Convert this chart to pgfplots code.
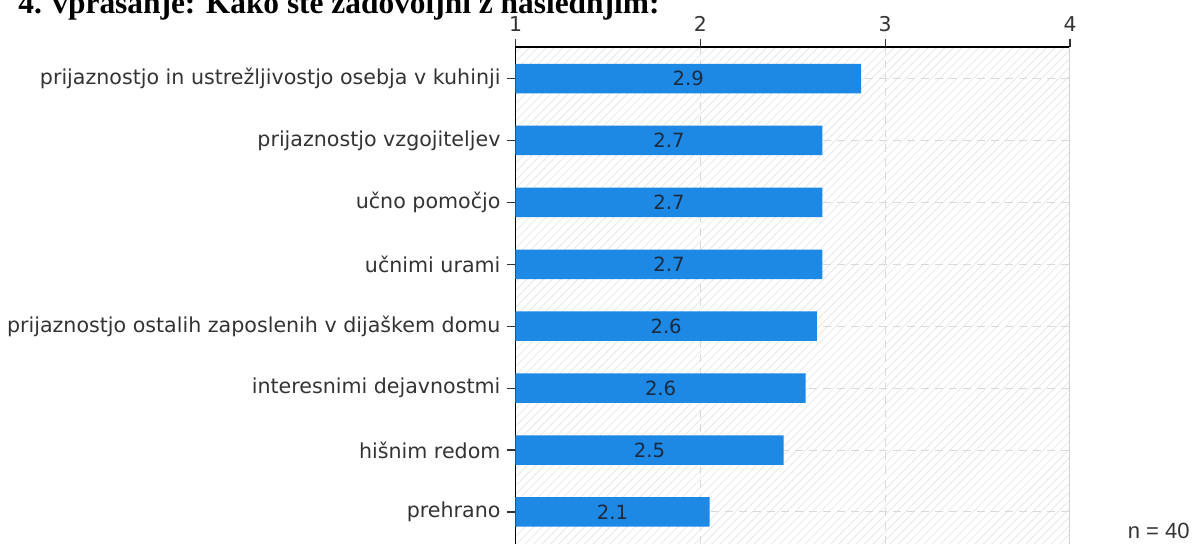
\documentclass[border=0pt]{standalone}
\usepackage{fontspec}
\setmainfont{DejaVu Sans}
\newfontfamily\titlefont{Liberation Serif}
\newfontfamily\arialfont{Liberation Sans}
\usepackage{pgfplots}
\pgfplotsset{compat=1.18}
\usepackage{pgfplotstable}
\usetikzlibrary{patterns.meta}
\definecolor{barblue}{HTML}{1E88E5}
\definecolor{labgray}{HTML}{333333}
\definecolor{valnavy}{HTML}{1A2B3F}

% mean score per item, bottom to top
\pgfplotstableread{
y val
0 2.05
1 2.45
2 2.57
3 2.63
4 2.66
5 2.66
6 2.66
7 2.87
}\bars
% label position (middle of the bar) and the printed value
\pgfplotstableread{
y mid lab
0 1.525 2.1
1 1.725 2.5
2 1.785 2.6
3 1.815 2.6
4 1.830 2.7
5 1.830 2.7
6 1.830 2.7
7 1.935 2.9
}\vals

\begin{document}
\begin{tikzpicture}
\useasboundingbox (0,0) rectangle (598pt,-271.5pt);
\node[anchor=base west,inner sep=0pt,font=\titlefont\bfseries\fontsize{15.7}{18}\selectfont]
  at (9pt,-6.5pt) {4. vprašanje: Kako ste zadovoljni z naslednjim:};
\begin{axis}[
  at={(257.75pt,-23.5pt)},anchor=north west,
  scale only axis,width=277.25pt,height=248.25pt,
  xmin=1,xmax=4,ymin=-0.509,ymax=7.509,
  axis x line=top,axis y line=left,
  x axis line style={-},y axis line style={-},
  axis line style={black,line width=0.8pt},
  xtick={1,2,3,4},ytick={0,...,7},
  yticklabels={prehrano,hišnim redom,interesnimi dejavnostmi,
    prijaznostjo ostalih zaposlenih v dijaškem domu,učnimi urami,
    učno pomočjo,prijaznostjo vzgojiteljev,
    prijaznostjo in ustrežljivostjo osebja v kuhinji},
  /pgf/number format/assume math mode=true,
  tick align=outside,major tick length=4pt,
  tick style={black!80,line width=0.6pt},
  xticklabel style={font=\fontsize{10.2}{12}\selectfont,text=black!80},
  yticklabel style={font=\fontsize{10.3}{12}\selectfont,text=labgray},
  xmajorgrids,ymajorgrids,
  major grid style={gray!30,dash pattern=on 4pt off 3pt,line width=0.5pt},
  axis background/.style={fill=white,
    postaction={pattern={Lines[angle=45,distance=3pt,line width=0.4pt]},pattern color=black!9}},
]
\addplot[xbar,bar width=14.75pt,fill=barblue,draw=none] table[x=val,y=y]{\bars};
\addplot[draw=none,nodes near coords,point meta=explicit symbolic,
  nodes near coords style={anchor=center,font=\fontsize{9.8}{11}\selectfont,text=valnavy}]
  table[x=mid,y=y,meta=lab]{\vals};
\draw[gray!35,line width=0.6pt] (axis cs:4,-0.509) -- (axis cs:4,7.509);
\end{axis}
\node[anchor=base east,inner sep=0pt,font=\arialfont\fontsize{11}{13}\selectfont,text=labgray]
  at (595pt,-269pt) {n = 40};
\end{tikzpicture}
\end{document}
